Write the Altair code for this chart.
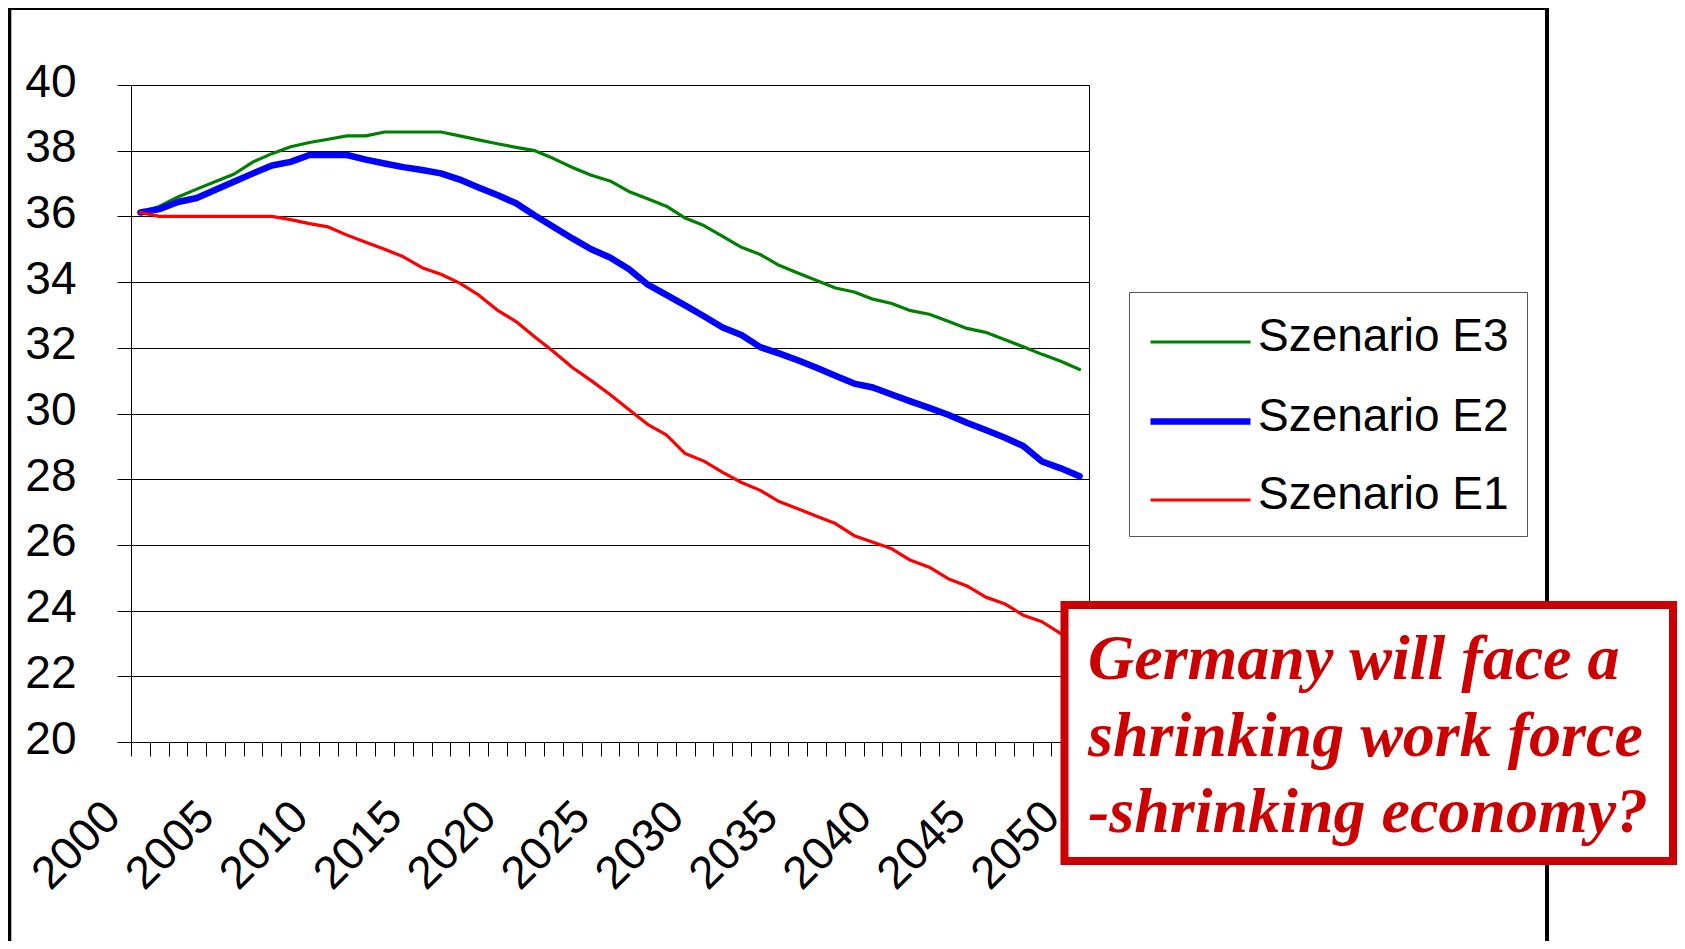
import altair as alt
import pandas as pd

years = list(range(2000, 2051))

e3 = [36.12, 36.30, 36.59, 36.83, 37.06, 37.29, 37.66, 37.91, 38.12, 38.25,
      38.35, 38.45, 38.45, 38.57, 38.57, 38.57, 38.57, 38.45, 38.33, 38.21,
      38.10, 38.00, 37.76, 37.49, 37.25, 37.08, 36.76, 36.54, 36.31, 35.95,
      35.72, 35.39, 35.06, 34.84, 34.51, 34.28, 34.05, 33.82, 33.70, 33.48,
      33.35, 33.13, 33.02, 32.81, 32.59, 32.47, 32.25, 32.03, 31.80, 31.59,
      31.34]
e2 = [36.12, 36.22, 36.44, 36.56, 36.81, 37.06, 37.31, 37.55, 37.66, 37.87,
      37.87, 37.87, 37.73, 37.61, 37.50, 37.41, 37.31, 37.12, 36.88, 36.65,
      36.40, 36.03, 35.68, 35.33, 35.00, 34.75, 34.40, 33.93, 33.61, 33.29,
      32.96, 32.62, 32.39, 32.02, 31.83, 31.62, 31.39, 31.15, 30.91, 30.79,
      30.58, 30.37, 30.17, 29.96, 29.72, 29.50, 29.27, 29.01, 28.54, 28.33,
      28.09]
e1 = [36.12, 36.00, 36.00, 36.00, 36.00, 36.00, 36.00, 36.00, 35.90, 35.78,
      35.68, 35.43, 35.21, 35.00, 34.77, 34.44, 34.24, 33.97, 33.61, 33.15,
      32.80, 32.33, 31.88, 31.40, 31.00, 30.58, 30.12, 29.67, 29.35, 28.78,
      28.55, 28.21, 27.90, 27.66, 27.32, 27.10, 26.87, 26.65, 26.28, 26.08,
      25.88, 25.53, 25.32, 24.97, 24.75, 24.41, 24.21, 23.86, 23.66, 23.30,
      22.95]

series_names = ["Szenario E3", "Szenario E2", "Szenario E1"]
series_colors = ["#008000", "#0000FF", "#FF0000"]
series_widths = [3.2, 6.5, 3.2]
y_ticks = [20, 22, 24, 26, 28, 30, 32, 34, 36, 38, 40]
annotation_lines = ["Germany will face a", "shrinking work force", "-shrinking economy?"]

rows = []
for name, vals in zip(series_names, [e3, e2, e1]):
    for yr, v in zip(years, vals):
        rows.append({"year": yr, "value": v, "series": name})
df = pd.DataFrame(rows)

legend_def = dict(
    title=None, orient="none", legendX=998, legendY=207,
    symbolType="M-2,0.2H2", symbolSize=2500, symbolOffset=25,
    labelFont="Liberation Sans", labelFontSize=46, labelColor="black",
    labelLimit=600, labelOffset=29, padding=18, rowPadding=28,
    strokeColor="#555555", fillColor="white",
)

lines = alt.Chart(df).mark_line(strokeJoin="round", strokeCap="round").encode(
    x=alt.X(
        "year:O", bandPosition=0.5,
        scale=alt.Scale(type="band", paddingInner=0, paddingOuter=0, domain=years),
        axis=alt.Axis(
            title=None, tickBand="extent", grid=False,
            labelAngle=-45, labelAlign="right", labelBaseline="middle",
            labelExpr="datum.value % 5 === 0 ? datum.label : ''",
            labelOverlap=False, labelBound=False, labelFlush=False,
            labelOffset=-28, labelPadding=53, tickSize=14,
            labelFont="Liberation Sans", labelFontSize=46, labelColor="black",
            tickColor="black", domainColor="black", domainWidth=1,
        ),
    ),
    y=alt.Y(
        "value:Q",
        scale=alt.Scale(domain=[20, 40], nice=False, zero=False),
        axis=alt.Axis(
            title=None, values=y_ticks, grid=True, gridColor="black", gridWidth=1,
            tickSize=14, tickColor="black", domainColor="black",
            labelPadding=41, labelOffset=-3,
            labelFont="Liberation Sans", labelFontSize=46, labelColor="black",
        ),
    ),
    color=alt.Color("series:N", scale=alt.Scale(domain=series_names, range=series_colors),
                    legend=alt.Legend(**legend_def)),
    strokeWidth=alt.StrokeWidth("series:N",
                                scale=alt.Scale(type="ordinal", domain=series_names, range=series_widths),
                                legend=alt.Legend(**legend_def)),
)

one = pd.DataFrame({"k": [0]})

frame = alt.Chart(one).mark_rect(fill="transparent", stroke="black", strokeWidth=4).encode(
    x=alt.value(-121.7), x2=alt.value(1416), y=alt.value(-77), y2=alt.value(880)
)

box = alt.Chart(one).mark_rect(fill="white", stroke="#CC0000", strokeWidth=8).encode(
    x=alt.value(933.5), x2=alt.value(1542), y=alt.value(520), y2=alt.value(776)
)

note = alt.Chart(one).mark_text(
    text=annotation_lines, align="left", baseline="alphabetic",
    font="Liberation Serif", fontStyle="italic", fontWeight="bold",
    fontSize=64, color="#CC0000", lineHeight=76.7,
).encode(x=alt.value(957), y=alt.value(594))

chart = alt.layer(frame, lines, box, note).properties(
    width=958, height=657,
    autosize=alt.AutoSizeParams(type="none"),
    padding={"left": 123, "top": 77, "right": 588, "bottom": 199},
).configure(background="white").configure_view(stroke="black", strokeWidth=1)

chart.save("out.html", embed_options={"renderer": "svg", "actions": False})
